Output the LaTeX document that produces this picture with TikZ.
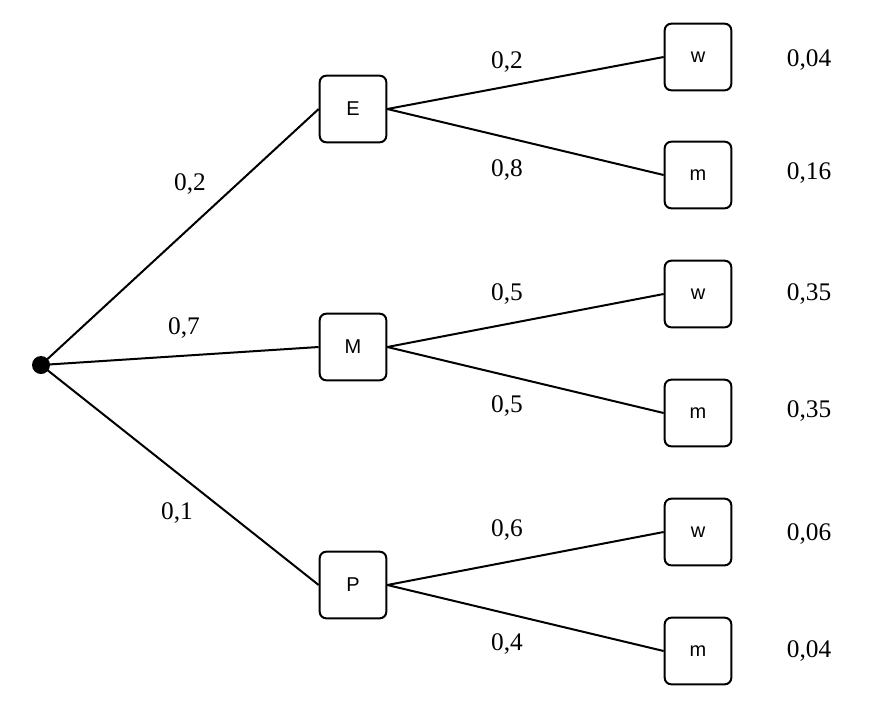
\documentclass[tikz,border=0pt]{standalone}
\usepackage{fontspec}
\setmainfont{Liberation Serif}
\newfontfamily\boxfont{Liberation Sans}
\usepackage{tikz}

\begin{document}
\begin{tikzpicture}[x=0.75pt, y=-0.75pt, line width=1.5pt,
    state/.style={draw, rounded corners=5pt, minimum width=50pt, minimum height=50pt, inner sep=0pt, font=\boxfont\fontsize{15}{17}\selectfont},
    prob/.style={font=\fontsize{19}{22}\selectfont}]
                \useasboundingbox (0,0) rectangle (870,711);
                \node[circle, fill, inner sep=0pt, minimum size=13.5pt] (root) at (41,365) {};
                \node[state] (E) at (353,109) {E};
                \node[state] (M) at (353,347) {M};
                \node[state] (P) at (353,585) {P};
                \node[state] (Ew) at (698,57) {w};
                \node[state] (Em) at (698,175) {m};
                \node[state] (Mw) at (698,294) {w};
                \node[state] (Mm) at (698,413) {m};
                \node[state] (Pw) at (698,532) {w};
                \node[state] (Pm) at (698,651) {m};
                \draw (root.center) -- (E.west);
                \draw (root.center) -- (M.west);
                \draw (root.center) -- (P.west);
                \draw (E.east) -- (Ew.west);
                \draw (E.east) -- (Em.west);
                \draw (M.east) -- (Mw.west);
                \draw (M.east) -- (Mm.west);
                \draw (P.east) -- (Pw.west);
                \draw (P.east) -- (Pm.west);
                \node[prob] (pE) at (190,184) {0,2};
                \node[prob] (pM) at (184,328) {0,7};
                \node[prob] (pP) at (177,513) {0,1};
                \node[prob] (pEw) at (507,62) {0,2};
                \node[prob] (pEm) at (507,170) {0,8};
                \node[prob] (pMw) at (507,294) {0,5};
                \node[prob] (pMm) at (507,406) {0,5};
                \node[prob] (pPw) at (507,530) {0,6};
                \node[prob] (pPm) at (507,644) {0,4};
                \node[prob] (rEw) at (809,60) {0,04};
                \node[prob] (rEm) at (809,173) {0,16};
                \node[prob] (rMw) at (809,294) {0,35};
                \node[prob] (rMm) at (809,411) {0,35};
                \node[prob] (rPw) at (809,534) {0,06};
                \node[prob] (rPm) at (809,651) {0,04};
\end{tikzpicture}
\end{document}
